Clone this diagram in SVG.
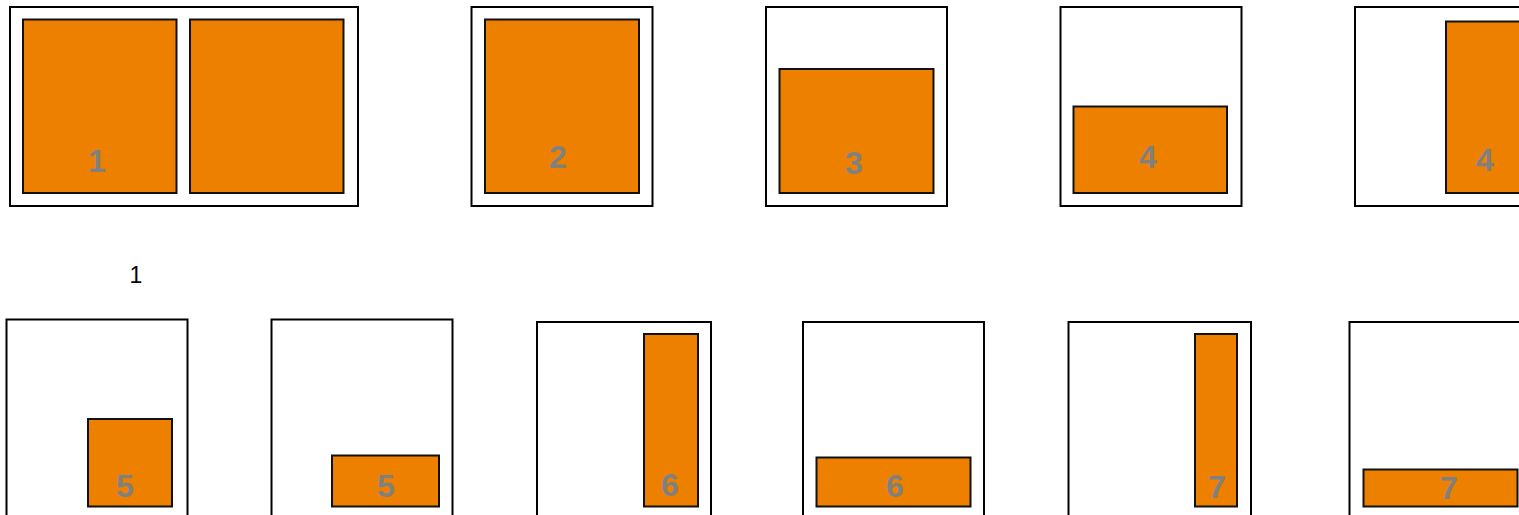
<svg xmlns="http://www.w3.org/2000/svg" width="1519" height="515" viewBox="0 0 1519 515">
<style>
.outer{fill:#fff;stroke:#000;stroke-width:2}
.inner{fill:#EE8000;stroke:#111;stroke-width:2}
.num{font-family:"Liberation Sans",Arial,sans-serif;font-weight:bold;font-size:32px;fill:#808080;text-anchor:middle}
.cap{font-family:"Liberation Sans",Arial,sans-serif;font-size:23px;fill:#000;text-anchor:middle}
</style>
<rect width="1519" height="515" fill="#fff"/>
<g id="n1">
<rect class="outer" x="10" y="7" width="348" height="199"/>
<rect class="inner" x="23" y="19.5" width="153.5" height="173.5"/>
<rect class="inner" x="190" y="19.5" width="153.5" height="173.5"/>
<text class="num" x="97" y="172">1</text>
</g>
<g id="n2">
<rect class="outer" x="471.5" y="7" width="181" height="199"/>
<rect class="inner" x="485" y="19.5" width="154" height="173.5"/>
<text class="num" x="558" y="168">2</text>
</g>
<g id="n3">
<rect class="outer" x="766" y="7" width="181" height="199"/>
<rect class="inner" x="779.5" y="69" width="154" height="124"/>
<text class="num" x="854" y="174">3</text>
</g>
<g id="n4">
<rect class="outer" x="1060.5" y="7" width="181" height="199"/>
<rect class="inner" x="1073.5" y="106.5" width="153.5" height="86.5"/>
<text class="num" x="1148" y="168">4</text>
</g>
<g id="n5">
<rect class="outer" x="1355" y="7" width="181" height="199"/>
<rect class="inner" x="1446" y="21.5" width="154" height="171.5"/>
<text class="num" x="1485" y="171">4</text>
</g>
<g id="cap1">
<text class="cap" x="136" y="283">1</text>
</g>
<g id="n6">
<rect class="outer" x="6.5" y="319.5" width="181" height="220"/>
<rect class="inner" x="88" y="419" width="84" height="87.5"/>
<text class="num" x="125" y="497">5</text>
</g>
<g id="n7">
<rect class="outer" x="271.5" y="319.5" width="181" height="220"/>
<rect class="inner" x="332" y="455.5" width="107" height="51"/>
<text class="num" x="386" y="497">5</text>
</g>
<g id="n8">
<rect class="outer" x="537" y="322" width="174" height="220"/>
<rect class="inner" x="644" y="334" width="54" height="172.5"/>
<text class="num" x="670" y="496">6</text>
</g>
<g id="n9">
<rect class="outer" x="803" y="322" width="181" height="220"/>
<rect class="inner" x="816.5" y="457.5" width="154" height="49"/>
<text class="num" x="895" y="497">6</text>
</g>
<g id="n10">
<rect class="outer" x="1068.5" y="322" width="182.5" height="220"/>
<rect class="inner" x="1195" y="334" width="42" height="172.5"/>
<text class="num" x="1217" y="498">7</text>
</g>
<g id="n11">
<rect class="outer" x="1349.5" y="322" width="181" height="220"/>
<rect class="inner" x="1363.5" y="469.5" width="154" height="37"/>
<text class="num" x="1449" y="499">7</text>
</g>
<g id="connectors"></g>
</svg>
